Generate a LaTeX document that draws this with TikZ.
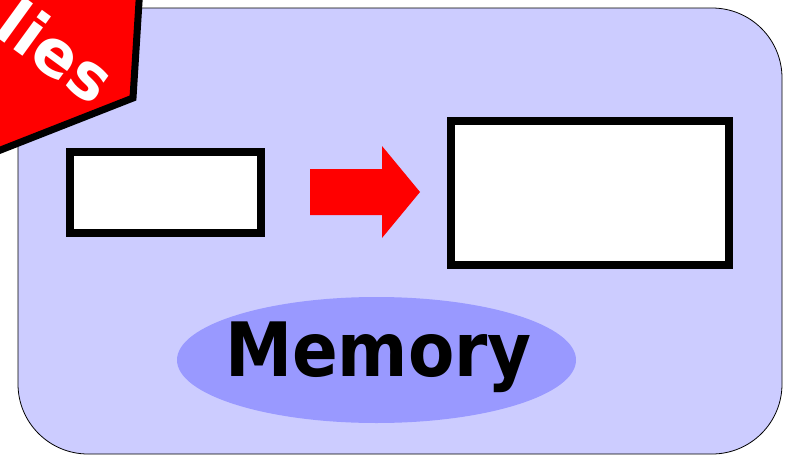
\documentclass[tikz,border=0pt]{standalone}
\usepackage{fontspec}
\setmainfont{DejaVu Sans}
\usepackage{xcolor}
\usetikzlibrary{positioning,shapes.geometric}

\definecolor{memback}{HTML}{CCCCFF}
\definecolor{memoval}{HTML}{9999FF}

\begin{document}
\begin{tikzpicture}[
    x=1pt, y=-1pt,
    box/.style={draw, line width=8pt, fill=white, minimum width=191pt, minimum height=81pt, inner sep=0pt},
    bigbox/.style={box, minimum width=278pt, minimum height=144pt},
    oval/.style={ellipse, fill=memoval, minimum width=399pt, minimum height=126pt, inner sep=0pt},
    label/.style={inner sep=0pt, font=\bfseries\fontsize{75}{75}\selectfont},
    banner/.style={fill=red, draw=black, line width=7pt, line join=miter}
]
\useasboundingbox (0,0) rectangle (787,455);
\draw[fill=memback, line width=0.8pt, rounded corners=70pt] (18,8) rectangle (782,454);

\node[box] (small) at (165.5,192.5) {};
\node[bigbox, right=182pt of small] (big) {};
\fill[red] (310,169) -- (382,169) -- (382,146) -- (420,192) -- (382,238) -- (382,215) -- (310,215) -- cycle;

\node[oval] (mem) at (376.5,360) {};
\node[label, anchor=base] (memtext) at (378.5,376) {\scalebox{0.9}[1]{Memory}};

% corner banner
\begin{scope}
\clip (0,0) rectangle (787,455);
\draw[banner] (133,98) -- (141,-30) -- (-30,-30) -- (-30,162) -- cycle;
\node[anchor=base west, rotate=-36, inner sep=0pt, text=white, font=\bfseries\fontsize{64}{64}\selectfont] (tag) at (-8.7,33.5) {lies};
\end{scope}
\end{tikzpicture}
\end{document}
